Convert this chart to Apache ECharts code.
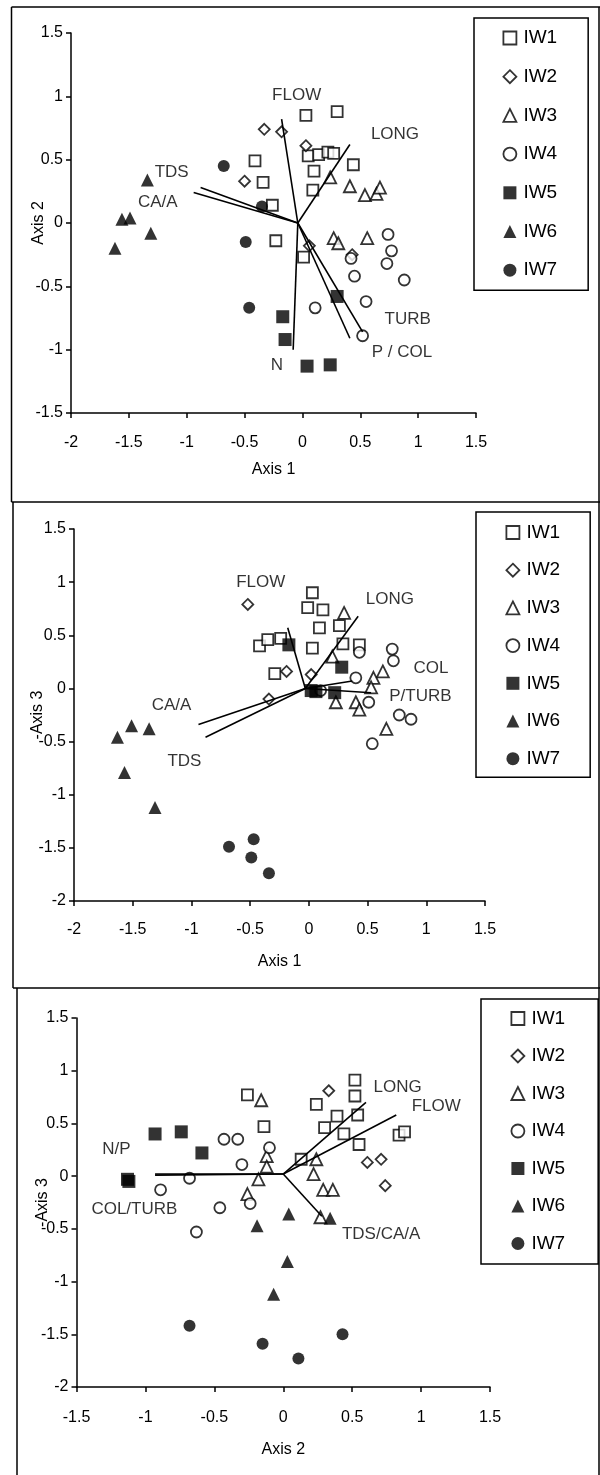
<!DOCTYPE html>
<html><head><meta charset="utf-8">
<script src="https://cdn.jsdelivr.net/npm/echarts@6/dist/echarts.min.js"></script>
<style>html,body{margin:0;padding:0;background:#fff}#c{width:600px;height:1475px}</style>
</head><body><div id="c"></div>
<script>
// ---------- data ----------
const groups = ['IW1','IW2','IW3','IW4','IW5','IW6','IW7'];

// Panel 1: Axis 1 (x) vs Axis 2 (y)
const p1_IW1 = [[0.03,0.85],[0.30,0.88],[0.05,0.53],[0.14,0.54],[0.22,0.56],[0.27,0.55],[0.10,0.41],[0.44,0.46],[-0.41,0.49],[-0.34,0.32],[0.09,0.26],[-0.26,0.14],[-0.23,-0.14],[0.01,-0.27]];
const p1_IW2 = [[-0.33,0.74],[-0.18,0.72],[0.03,0.61],[-0.50,0.33],[0.06,-0.18],[0.43,-0.25]];
const p1_IW3 = [[0.24,0.36],[0.41,0.29],[0.54,0.22],[0.64,0.23],[0.67,0.28],[0.27,-0.12],[0.31,-0.16],[0.56,-0.12]];
const p1_IW4 = [[0.74,-0.09],[0.77,-0.22],[0.73,-0.32],[0.42,-0.28],[0.45,-0.42],[0.88,-0.45],[0.55,-0.62],[0.11,-0.67],[0.52,-0.89]];
const p1_IW5 = [[0.30,-0.58],[-0.17,-0.74],[-0.15,-0.92],[0.04,-1.13],[0.24,-1.12]];
const p1_IW6 = [[-1.34,0.34],[-1.56,0.03],[-1.49,0.04],[-1.31,-0.08],[-1.62,-0.20]];
const p1_IW7 = [[-0.68,0.45],[-0.35,0.13],[-0.49,-0.15],[-0.46,-0.67]];
const p1_origin = [-0.04, 0];
const p1_vectorEnds = [[-0.18,0.82],[0.41,0.62],[-0.88,0.28],[-0.94,0.24],[0.52,-0.86],[0.41,-0.91],[-0.08,-1.00]];
const p1_labelNames = ['FLOW','LONG','TDS','CA/A','TURB','P / COL','N'];
const p1_labelPos = [[-0.05,1.01],[0.80,0.70],[-1.13,0.40],[-1.25,0.16],[0.91,-0.76],[0.86,-1.02],[-0.22,-1.12]];

// Panel 2: Axis 1 (x) vs -Axis 3 (y)
const p2_IW1 = [[0.03,0.90],[-0.01,0.76],[0.12,0.74],[0.09,0.57],[0.26,0.59],[0.29,0.42],[0.43,0.41],[0.03,0.38],[-0.42,0.40],[-0.35,0.46],[-0.24,0.47],[-0.29,0.14]];
const p2_IW2 = [[-0.52,0.79],[-0.19,0.16],[0.02,0.13],[-0.34,-0.10]];
const p2_IW3 = [[0.30,0.71],[0.20,0.30],[0.63,0.16],[0.55,0.10],[0.53,0.01],[0.23,-0.13],[0.40,-0.13],[0.43,-0.20],[0.66,-0.38]];
const p2_IW4 = [[0.71,0.37],[0.72,0.26],[0.43,0.34],[0.40,0.10],[0.51,-0.13],[0.77,-0.25],[0.87,-0.29],[0.54,-0.52],[0.10,-0.02]];
const p2_IW5 = [[-0.17,0.41],[0.28,0.20],[0.22,-0.04],[0.02,-0.02],[0.06,-0.03]];
const p2_IW6 = [[-1.63,-0.46],[-1.51,-0.35],[-1.36,-0.38],[-1.57,-0.79],[-1.31,-1.12]];
const p2_IW7 = [[-0.68,-1.49],[-0.47,-1.42],[-0.49,-1.59],[-0.34,-1.74]];
const p2_origin = [-0.03, 0];
const p2_vectorEnds = [[-0.18,0.57],[0.42,0.68],[0.37,0.07],[0.53,-0.04],[-0.94,-0.34],[-0.88,-0.46]];
const p2_labelNames = ['FLOW','LONG','COL','P/TURB','CA/A','TDS'];
const p2_labelPos = [[-0.41,1.00],[0.69,0.84],[1.04,0.19],[0.95,-0.07],[-1.17,-0.16],[-1.06,-0.69]];

// Panel 3: Axis 2 (x) vs -Axis 3 (y)
const p3_IW1 = [[0.52,0.91],[0.52,0.76],[-0.26,0.77],[0.24,0.68],[0.39,0.57],[0.54,0.58],[-0.14,0.47],[0.30,0.46],[0.44,0.40],[0.55,0.30],[0.84,0.39],[0.88,0.42],[0.13,0.16]];
const p3_IW2 = [[0.33,0.81],[0.61,0.13],[0.71,0.16],[0.74,-0.09]];
const p3_IW3 = [[-0.16,0.72],[-0.12,0.19],[-0.12,0.09],[-0.18,-0.03],[-0.26,-0.17],[0.24,0.16],[0.22,0.02],[0.29,-0.13],[0.36,-0.13],[0.27,-0.39]];
const p3_IW4 = [[-0.43,0.35],[-0.33,0.35],[-0.10,0.27],[-0.30,0.11],[-0.68,-0.02],[-0.89,-0.13],[-0.46,-0.30],[-0.24,-0.26],[-0.63,-0.53]];
const p3_IW5 = [[-0.93,0.40],[-0.74,0.42],[-0.59,0.22],[-1.13,-0.03],[-1.12,-0.05]];
const p3_IW6 = [[0.04,-0.36],[-0.19,-0.47],[0.34,-0.40],[0.03,-0.81],[-0.07,-1.12]];
const p3_IW7 = [[-0.68,-1.42],[-0.15,-1.59],[0.11,-1.73],[0.43,-1.50]];
const p3_origin = [0, 0.02];
const p3_vectorEnds = [[-0.93,0.02],[-0.93,0.01],[0.60,0.70],[0.82,0.58],[0.28,-0.38]];
const p3_labelNames = ['N/P','COL/TURB','LONG','FLOW','TDS/CA/A'];
const p3_labelPos = [[-1.21,0.25],[-1.08,-0.31],[0.83,0.84],[1.11,0.66],[0.71,-0.55]];

// axis ranges and titles
const xRanges = [[-2,1.5],[-2,1.5],[-1.5,1.5]];
const yRanges = [[-1.5,1.5],[-2,1.5],[-2,1.5]];
const xTitles = ['Axis 1','Axis 1','Axis 2'];
const yTitles = ['Axis 2','-Axis 3','-Axis 3'];

// ---------- styling ----------
const F = 'Liberation Sans, Arial, Helvetica, sans-serif';
const SYMBOLS = ['rect','diamond','triangle','circle','rect','triangle','circle'];
const FILLED = [false,false,false,false,true,true,true];
const SIZES = [11,11,12,11,13,13,12];
const styleFor = i => FILLED[i] ? {color:'#000', borderColor:'#000', borderWidth:0}
                                 : {color:'#fff', borderColor:'#000', borderWidth:1.8};

const panels = [
  {groups:[p1_IW1,p1_IW2,p1_IW3,p1_IW4,p1_IW5,p1_IW6,p1_IW7], origin:p1_origin, ends:p1_vectorEnds, lnames:p1_labelNames, lpos:p1_labelPos},
  {groups:[p2_IW1,p2_IW2,p2_IW3,p2_IW4,p2_IW5,p2_IW6,p2_IW7], origin:p2_origin, ends:p2_vectorEnds, lnames:p2_labelNames, lpos:p2_labelPos},
  {groups:[p3_IW1,p3_IW2,p3_IW3,p3_IW4,p3_IW5,p3_IW6,p3_IW7], origin:p3_origin, ends:p3_vectorEnds, lnames:p3_labelNames, lpos:p3_labelPos}
];

const grids = [
  {left:71, top:33, width:405, height:380},
  {left:74, top:529, width:411, height:372},
  {left:76.5, top:1018, width:413.5, height:369}
];
const xNameGaps = [49, 53, 55];
const xLabelMargins = [22, 21, 23];
const yNameGaps = [24, 28, 26];

const legendBoxes = [
  {left:474, top:18, padding:[10.5,31,10.5,28.5], itemGap:19.7},
  {left:476, top:512, padding:[11,30,9,29.5], itemGap:18.7},
  {left:481, top:999, padding:[10,33,11,29.5], itemGap:18.5}
];

const axisLineStyle = {color:'#000', width:1.5};

const xAxes = grids.map((g,i)=>({
  type:'value', gridIndex:i, min:xRanges[i][0], max:xRanges[i][1], interval:0.5,
  name:xTitles[i], nameLocation:'middle', nameGap:xNameGaps[i], nameMoveOverlap:false,
  nameTextStyle:{fontSize:16, color:'#000', fontFamily:F},
  axisLine:{show:true, onZero:false, lineStyle:axisLineStyle},
  axisTick:{show:true, inside:false, length:5, lineStyle:axisLineStyle},
  axisLabel:{fontSize:16, color:'#000', fontFamily:F, margin:xLabelMargins[i], showMinLabel:true, showMaxLabel:true},
  splitLine:{show:false}
}));
const yAxes = grids.map((g,i)=>({
  type:'value', gridIndex:i, min:yRanges[i][0], max:yRanges[i][1], interval:0.5,
  name:yTitles[i], nameLocation:'middle', nameGap:yNameGaps[i], nameMoveOverlap:false,
  nameTextStyle:{fontSize:16, color:'#000', fontFamily:F},
  axisLine:{show:true, onZero:false, lineStyle:axisLineStyle},
  axisTick:{show:true, inside:false, length:5, lineStyle:axisLineStyle},
  axisLabel:{fontSize:16, color:'#000', fontFamily:F, margin:8, showMinLabel:true, showMaxLabel:true},
  splitLine:{show:false}
}));

const series = [];
panels.forEach((p,pi)=>{
  p.groups.forEach((data,gi)=>{
    series.push({
      type:'scatter', name:groups[gi], xAxisIndex:pi, yAxisIndex:pi,
      symbol:SYMBOLS[gi], symbolSize:SIZES[gi], data:data,
      itemStyle:styleFor(gi), z:3, silent:true
    });
  });
  series.push({
    type:'lines', coordinateSystem:'cartesian2d', xAxisIndex:pi, yAxisIndex:pi,
    polyline:false, symbol:'none', silent:true, z:4,
    lineStyle:{color:'#000', width:1.6, opacity:1},
    data:p.ends.map(e=>({coords:[p.origin, e]}))
  });
  series.push({
    type:'scatter', xAxisIndex:pi, yAxisIndex:pi, symbolSize:1, silent:true, z:5,
    itemStyle:{color:'rgba(0,0,0,0)'},
    label:{show:true, position:'inside', formatter:q=>q.name, fontSize:17, color:'#000', fontFamily:F},
    data:p.lnames.map((n,k)=>({name:n, value:p.lpos[k]}))
  });
});

const legends = legendBoxes.map(b=>({
  orient:'vertical', left:b.left, top:b.top, padding:b.padding, itemGap:b.itemGap,
  itemWidth:13, itemHeight:13, borderColor:'#000', borderWidth:1.5, backgroundColor:'#fff',
  selectedMode:false,
  textStyle:{fontSize:19, color:'#000', fontFamily:F, padding:[0,0,0,2]},
  data:groups.map((g,i)=>({name:g, icon:SYMBOLS[i], itemStyle:styleFor(i)}))
}));

const ln = (x1,y1,x2,y2)=>({type:'line', shape:{x1,y1,x2,y2}, style:{stroke:'#000', lineWidth:1.5}, silent:true});
const graphic = [
  ln(11.5,7,600,7),
  ln(11.5,7,11.5,502),
  ln(13,502,13,988),
  ln(17,988,17,1475),
  ln(11.5,502,600,502),
  ln(13,988,600,988),
  ln(599,7,599,1475)
];

const chart = echarts.init(document.getElementById('c'), null, {renderer:'canvas'});
chart.setOption({
  animation:false,
  backgroundColor:'#fff',
  grid:grids,
  xAxis:xAxes,
  yAxis:yAxes,
  legend:legends,
  series:series,
  graphic:graphic
});
</script>
</body></html>
